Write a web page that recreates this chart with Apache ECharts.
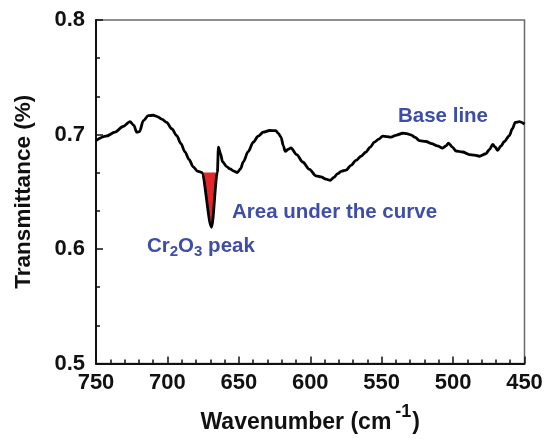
<!DOCTYPE html>
<html>
<head>
<meta charset="utf-8">
<script src="https://cdn.jsdelivr.net/npm/echarts@6/dist/echarts.min.js"></script>
<style>
html,body{margin:0;padding:0;background:#fff;}
#chart{width:552px;height:439px;}
</style>
</head>
<body>
<div id="chart"></div>
<script>
// Wavenumber (cm-1) and transmittance values
var wavenumber = [750,743,736.7,731,726.2,723.5,721.5,719.5,716.9,713.4,710,707.5,704,700.5,697,693.5,690.5,687.7,684.8,681.9,679,676,669.1,665.0,664.3,663,661.3,658.5,656.2,653.5,651.1,648.8,646.9,643.5,639.9,636.5,632.9,628.5,624.2,622.3,620.5,618.8,617.5,615.5,613.5,609.5,605.3,600.5,596,592.5,589,586,583.5,580.8,578,575,571.5,568,564.5,561,558,555.1,552,549.3,546.5,543.5,539.5,535.3,532.5,529.5,526.5,523.6,519,515,511,507.3,505,503.2,500.5,498,493.3,488.6,485,481.6,477,474.5,472.2,470.5,468.8,466.5,464.1,460.6,458.5,456.5,453.6,450];
var transmittance = [0.6947,0.6985,0.702,0.707,0.7112,0.708,0.702,0.7025,0.712,0.7164,0.7168,0.7158,0.7135,0.7106,0.705,0.699,0.692,0.6847,0.678,0.6717,0.668,0.6668,0.619,0.6668,0.689,0.684,0.676,0.672,0.670,0.668,0.6668,0.670,0.676,0.685,0.6933,0.6985,0.702,0.7035,0.7034,0.701,0.6977,0.690,0.6852,0.687,0.6882,0.6825,0.676,0.6695,0.6639,0.663,0.661,0.660,0.6625,0.6659,0.668,0.6688,0.673,0.6774,0.681,0.6847,0.689,0.6933,0.696,0.6985,0.6982,0.6977,0.6995,0.7011,0.7008,0.6997,0.6975,0.6947,0.6939,0.692,0.690,0.6882,0.690,0.6925,0.689,0.6856,0.6847,0.6824,0.682,0.681,0.6832,0.687,0.6913,0.689,0.6861,0.690,0.6939,0.699,0.705,0.7106,0.7112,0.7092];
// Shaded Cr2O3 peak area (below the local base level)
var peakWavenumber = [676, 669.1, 665.0];
var peakTransmittance = [0.6668, 0.619, 0.6668];
var peakBase = 0.6668;
// Axis ticks
var xTicks = [750,700,650,600,550,500,450];
var yTicks = [0.5,0.6,0.7,0.8];

var FONT = "'Liberation Sans', Arial, sans-serif";
var BLUE = '#3e4ea6';

var curve = wavenumber.map(function(w,i){return [w, transmittance[i]];});
var peak = peakWavenumber.map(function(w,i){return [w, peakTransmittance[i]];});

var chart = echarts.init(document.getElementById('chart'), null, {renderer:'canvas'});
chart.setOption({
  animation:false,
  backgroundColor:'#fff',
  grid:{left:96, right:27.5, top:20, bottom:72.3, show:true, borderColor:'#6a6a6a', borderWidth:1.5, backgroundColor:'transparent'},
  xAxis:{
    type:'value', inverse:true,
    min:xTicks[xTicks.length-1], max:xTicks[0], interval:50,
    axisLine:{show:true, onZero:false, lineStyle:{color:'#111', width:2}},
    axisTick:{show:true, inside:true, length:7, lineStyle:{color:'#111', width:1.5}},
    minorTick:{show:true, splitNumber:5, length:4, lineStyle:{color:'#111', width:1.5}},
    splitLine:{show:false},
    axisLabel:{color:'#111', fontFamily:FONT, fontWeight:'bold', fontSize:22, margin:8},
    name:'{b|Wavenumber (cm}{s|-1}{b|)}',
    nameLocation:'middle', nameGap:40,
    nameTextStyle:{
      rich:{
        b:{fontFamily:FONT, fontWeight:'bold', fontSize:23, lineHeight:38, color:'#111'},
        s:{fontFamily:FONT, fontWeight:'bold', fontSize:18, lineHeight:18, color:'#111', verticalAlign:'top', padding:[0,1,0,4]}
      }
    }
  },
  yAxis:{
    type:'value',
    min:yTicks[0], max:yTicks[yTicks.length-1], interval:0.1,
    axisLine:{show:true, onZero:false, lineStyle:{color:'#111', width:2}},
    axisTick:{show:true, inside:true, length:7, lineStyle:{color:'#111', width:1.5}},
    minorTick:{show:true, splitNumber:3, length:4, lineStyle:{color:'#111', width:1.5}},
    splitLine:{show:false},
    axisLabel:{color:'#111', fontFamily:FONT, fontWeight:'bold', fontSize:22, margin:11,
      formatter:function(v){return v.toFixed(1);}},
    name:'Transmittance (%)',
    nameLocation:'middle', nameGap:61, nameRotate:90,
    nameTextStyle:{fontFamily:FONT, fontWeight:'bold', fontSize:22.5, color:'#111'}
  },
  series:[
    {
      type:'line', data:peak, symbol:'none', silent:true,
      lineStyle:{width:0, color:'#e3262b'},
      areaStyle:{color:'#e3262b', opacity:1, origin:peakBase},
      z:2
    },
    {
      type:'line', data:curve, symbol:'none', smooth:0.3, smoothMonotone:'x',
      lineStyle:{color:'#000', width:2.8},
      z:3
    }
  ],
  graphic:[
    {type:'text', x:398, y:116.7, z:10, style:{text:'Base line', fill:BLUE, font:'bold 20.5px '+FONT, verticalAlign:'middle', align:'left'}},
    {type:'text', x:232, y:212.5, z:10, style:{text:'Area under the curve', fill:BLUE, font:'bold 20.5px '+FONT, verticalAlign:'middle', align:'left'}},
    {type:'text', x:147, y:246.7, z:10, style:{
      text:'{a|Cr}{s|2}{a|O}{s|3}{a| peak}', verticalAlign:'middle', align:'left',
      rich:{
        a:{fill:BLUE, font:'bold 20.5px '+FONT, lineHeight:25},
        s:{fill:BLUE, font:'bold 15px '+FONT, lineHeight:15, verticalAlign:'bottom'}
      }
    }}
  ]
});
</script>
</body>
</html>
